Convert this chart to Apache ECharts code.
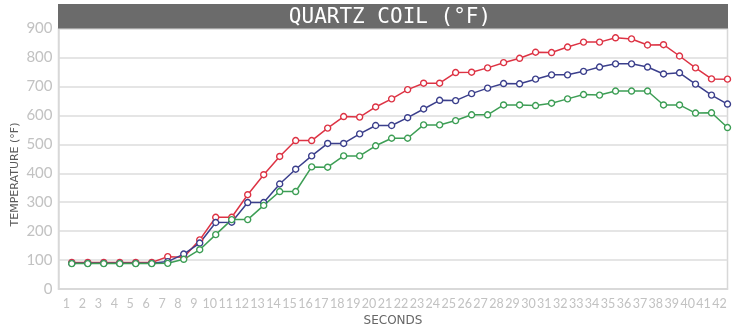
<!DOCTYPE html>
<html>
<head>
<meta charset="utf-8">
<script src="https://cdn.jsdelivr.net/npm/echarts@6/dist/echarts.min.js"></script>
<style>
  html, body { margin: 0; padding: 0; background: #ffffff; }
  #chart { width: 739px; height: 332px; }
</style>
</head>
<body>
<div id="chart"></div>
<script>
// Tick labels along the time axis (seconds)
const secondLabels = ['1','2','3','4','5','6','7','8','9','10','11','12','13','14','15','16','17','18','19','20','21',
  '22','23','24','25','26','27','28','29','30','31','32','33','34','35','36','37','38','39','40','41','42'];

// Coil temperature readings (°F), one per sample
const redTemps = [92, 92, 92, 92, 92, 92, 112, 110, 170, 248, 248, 326, 395, 458, 513, 513, 556, 596, 594, 629,
  657, 689, 711, 711, 748, 749, 764, 782, 797, 818, 817, 836, 853, 853, 868, 864, 843, 844, 805, 764, 726, 725];
const blueTemps = [89, 89, 89, 89, 89, 89, 95, 121, 159, 230, 231, 299, 299, 363, 414, 460, 503, 503, 536, 565,
  565, 592, 622, 652, 651, 675, 694, 710, 709, 725, 740, 740, 752, 767, 778, 778, 767, 743, 747, 708, 670, 639];
const greenTemps = [88, 88, 88, 88, 88, 88, 89, 103, 136, 188, 240, 240, 289, 337, 337, 422, 421, 460, 460, 495,
  521, 521, 567, 567, 582, 602, 602, 636, 636, 634, 642, 657, 672, 670, 684, 684, 684, 636, 636, 608, 609, 558];

const yTicks = { min: 0, max: 900, step: 100 };

const toPoints = vals => vals.map((v, i) => [i + 1, v]);

const lineSeries = (name, vals, color) => ({
  name: name,
  type: 'line',
  xAxisIndex: 1,
  data: toPoints(vals),
  symbol: 'circle',
  symbolSize: 6,
  showSymbol: true,
  itemStyle: { color: '#ffffff', borderColor: color, borderWidth: 1.4 },
  lineStyle: { color: color, width: 1.5 },
  emphasis: { disabled: true },
  clip: false,
  animation: false
});

const chart = echarts.init(document.getElementById('chart'), null, { renderer: 'canvas' });

chart.setOption({
  backgroundColor: '#ffffff',
  animation: false,
  grid: {
    left: 58.5, right: 11.5, top: 28.5, bottom: 42.5,
    show: true, borderColor: '#d8d8d8', borderWidth: 1.5, backgroundColor: 'transparent'
  },
  graphic: [
    {
      type: 'rect',
      shape: { x: 58, y: 4, width: 670, height: 24.5 },
      style: { fill: '#6b6b6b' },
      z: 10
    },
    {
      type: 'text',
      x: 390, y: 17.5,
      style: {
        text: 'QUARTZ COIL (°F)',
        fill: '#ffffff',
        font: '21px "DejaVu Sans Mono", monospace',
        textAlign: 'center',
        textVerticalAlign: 'middle'
      },
      z: 11
    },
    {
      // vertical axis title
      type: 'text',
      x: 15, y: 174.5,
      rotation: Math.PI / 2,
      style: {
        text: 'TEMPERATURE (°F)',
        fill: '#5a5a5a',
        font: '11px "DejaVu Sans", sans-serif',
        textAlign: 'center',
        textVerticalAlign: 'middle'
      }
    }
  ],
  xAxis: [
    {
      type: 'category',
      data: secondLabels,
      boundaryGap: true,
      name: 'SECONDS',
      nameLocation: 'middle',
      nameGap: 21,
      nameTextStyle: { color: '#666666', fontFamily: 'DejaVu Sans', fontSize: 12 },
      axisLine: { show: true, lineStyle: { color: '#d8d8d8', width: 1.5 } },
      axisTick: { show: false },
      axisLabel: { interval: 0, color: '#c2c2c2', fontFamily: 'Lato', fontSize: 12.5, margin: 8 },
      splitLine: { show: false }
    },
    {
      type: 'value',
      min: 0.17,
      max: 42,
      show: false,
      splitLine: { show: false }
    }
  ],
  yAxis: {
    type: 'value',
    min: yTicks.min,
    max: yTicks.max,
    interval: yTicks.step,
    axisLine: { show: true, lineStyle: { color: '#d8d8d8', width: 1.5 } },
    axisTick: { show: false },
    axisLabel: { color: '#c2c2c2', fontFamily: 'Lato', fontSize: 15, margin: 6 },
    splitLine: { show: true, lineStyle: { color: '#dcdcdc', width: 1.5 } }
  },
  series: [
    lineSeries('Red', redTemps, '#dd3344'),
    lineSeries('Blue', blueTemps, '#3b3f8c'),
    lineSeries('Green', greenTemps, '#3d9e55')
  ]
});
</script>
</body>
</html>
